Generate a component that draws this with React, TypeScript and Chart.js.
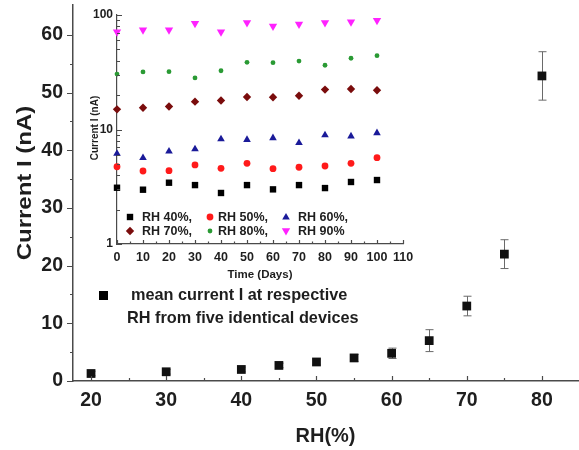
import React, { useEffect, useRef } from "react";
import { Chart, registerables } from "chart.js";
Chart.register(...registerables);

// ---------- main chart data ----------
const rhLevels = [20, 30, 40, 45, 50, 55, 60, 65, 70, 75, 80];
const meanCurrent = [1.3, 1.6, 2.0, 2.7, 3.3, 4.0, 4.8, 7.0, 13.0, 22.0, 52.9];
const currentError = [0.4, 0.4, 0.4, 0.4, 0.5, 0.6, 0.9, 1.9, 1.7, 2.5, 4.2];
const mainXTicks = [20, 30, 40, 50, 60, 70, 80];
const mainXMinor = [25, 35, 45, 55, 65, 75];
const mainYTicks = [0, 10, 20, 30, 40, 50, 60];
const mainYMinor = [5, 15, 25, 35, 45, 55];
const mainLegendLines = ["mean current I at respective", "RH from five identical devices"];

// ---------- inset data ----------
const days = [0, 10, 20, 30, 40, 50, 60, 70, 80, 90, 100];
const rh40 = [3.1, 2.98, 3.43, 3.27, 2.79, 3.27, 3.0, 3.27, 3.08, 3.48, 3.62];
const rh50 = [4.73, 4.34, 4.37, 4.9, 4.58, 5.07, 4.55, 4.68, 4.8, 5.07, 5.67];
const rh60 = [6.2, 5.7, 6.5, 6.8, 8.3, 8.2, 8.5, 7.7, 9.0, 8.8, 9.4];
const rh70 = [15.0, 15.5, 15.9, 17.5, 17.9, 19.2, 19.1, 19.7, 22.3, 22.6, 22.0];
const rh80 = [30.5, 31.8, 32.0, 28.2, 32.6, 38.6, 38.3, 39.6, 36.4, 41.9, 44.1];
const rh90 = [70.6, 73.5, 73.5, 83.5, 70.6, 85.1, 79.1, 82.3, 85.0, 86.4, 89.1];
const seriesLabels = ["RH 40%,", "RH 50%,", "RH 60%,", "RH 70%,", "RH 80%,", "RH 90%"];
const insetXTicks = [0, 10, 20, 30, 40, 50, 60, 70, 80, 90, 100, 110];
const insetXMinor = [5, 15, 25, 35, 45, 55, 65, 75, 85, 95, 105];
const insetYTicks = [1, 10, 100];
const insetYMinor = [2, 3, 4, 5, 6, 7, 8, 9, 20, 30, 40, 50, 60, 70, 80, 90];

const FONT = "'Liberation Sans', Arial, Helvetica, sans-serif";
const TEXT = "#1e1e1e";
const AXIS = "#4a4a4a";

type Marker = { style: string; r: number; color: string };
const markers: Marker[] = [
  { style: "rect", r: 3.2, color: "#000000" },
  { style: "circle", r: 3.4, color: "#ff1a1a" },
  { style: "triangle", r: 4.0, color: "#1a1a99" },
  { style: "diamond", r: 4.2, color: "#7a0c0c" },
  { style: "circle", r: 2.4, color: "#2a9a34" },
  { style: "triangleDown", r: 4.4, color: "#ff22ff" },
];

function drawMarker(ctx: CanvasRenderingContext2D, m: Marker, x: number, y: number) {
  ctx.save();
  ctx.fillStyle = m.color;
  ctx.beginPath();
  const r = m.r;
  if (m.style === "rect") ctx.rect(x - r, y - r, 2 * r, 2 * r);
  else if (m.style === "circle") ctx.arc(x, y, r, 0, Math.PI * 2);
  else if (m.style === "triangle") {
    ctx.moveTo(x, y - r);
    ctx.lineTo(x + r * 0.95, y + r * 0.65);
    ctx.lineTo(x - r * 0.95, y + r * 0.65);
    ctx.closePath();
  } else if (m.style === "triangleDown") {
    ctx.moveTo(x, y + r);
    ctx.lineTo(x + r * 0.95, y - r * 0.65);
    ctx.lineTo(x - r * 0.95, y - r * 0.65);
    ctx.closePath();
  } else if (m.style === "diamond") {
    ctx.moveTo(x, y - r);
    ctx.lineTo(x + r, y);
    ctx.lineTo(x, y + r);
    ctx.lineTo(x - r, y);
    ctx.closePath();
  }
  ctx.fill();
  ctx.restore();
}

function drawTicks(
  chart: any,
  axis: "x" | "y",
  values: number[],
  len: number,
  dir: number
) {
  const { ctx, chartArea } = chart;
  const scale = chart.scales[axis];
  ctx.save();
  ctx.strokeStyle = AXIS;
  ctx.lineWidth = 1.2;
  ctx.beginPath();
  values.forEach((v) => {
    const p = Math.round(scale.getPixelForValue(v)) + 0.5;
    if (axis === "y") {
      ctx.moveTo(chartArea.left, p);
      ctx.lineTo(chartArea.left + dir * len, p);
    } else {
      ctx.moveTo(p, chartArea.bottom);
      ctx.lineTo(p, chartArea.bottom - dir * len);
    }
  });
  ctx.stroke();
  ctx.restore();
}

const zeroPad = (s: any) => {
  s.paddingTop = 0;
  s.paddingBottom = 0;
  s.paddingLeft = 0;
  s.paddingRight = 0;
};

const mainDecor = {
  id: "mainDecor",
  beforeDatasetsDraw(chart: any) {
    const { ctx } = chart;
    const xs = chart.scales.x;
    const ys = chart.scales.y;
    ctx.save();
    ctx.strokeStyle = "#6a6a6a";
    ctx.lineWidth = 1;
    rhLevels.forEach((rh, i) => {
      const x = Math.round(xs.getPixelForValue(rh)) + 0.5;
      const yt = ys.getPixelForValue(meanCurrent[i] + currentError[i]);
      const yb = ys.getPixelForValue(Math.max(0, meanCurrent[i] - currentError[i]));
      ctx.beginPath();
      ctx.moveTo(x, yt);
      ctx.lineTo(x, yb);
      ctx.moveTo(x - 4, yt);
      ctx.lineTo(x + 4, yt);
      ctx.moveTo(x - 4, yb);
      ctx.lineTo(x + 4, yb);
      ctx.stroke();
    });
    ctx.restore();
  },
  afterDraw(chart: any) {
    const { ctx, chartArea } = chart;
    drawTicks(chart, "y", mainYTicks, 6, -1);
    drawTicks(chart, "y", mainYMinor, 3, -1);
    drawTicks(chart, "x", mainXTicks, 5, 1);
    drawTicks(chart, "x", mainXMinor, 3, 1);
    ctx.save();
    ctx.fillStyle = TEXT;
    // axis titles
    ctx.font = `bold 20px ${FONT}`;
    ctx.textAlign = "center";
    ctx.textBaseline = "middle";
    ctx.fillText("RH(%)", (chartArea.left + chartArea.right) / 2, 436);
    ctx.save();
    ctx.translate(25, 183);
    ctx.rotate(-Math.PI / 2);
    ctx.scale(1.2, 1);
    ctx.fillText("Current I (nA)", 0, 0);
    ctx.restore();
    // legend
    ctx.fillStyle = "#000";
    ctx.fillRect(99, 291, 9, 9);
    ctx.fillStyle = TEXT;
    ctx.font = `bold 16.3px ${FONT}`;
    ctx.textAlign = "left";
    ctx.fillText(mainLegendLines[0], 131, 296);
    ctx.fillText(mainLegendLines[1], 127, 319);
    ctx.restore();
  },
};

const insetDecor = {
  id: "insetDecor",
  afterDatasetsDraw(chart: any) {
    const { ctx } = chart;
    chart.data.datasets.forEach((ds: any, di: number) => {
      const meta = chart.getDatasetMeta(di);
      meta.data.forEach((pt: any) => drawMarker(ctx, markers[di], pt.x, pt.y));
    });
  },
  afterDraw(chart: any) {
    const { ctx, chartArea } = chart;
    drawTicks(chart, "y", insetYTicks, 5, 1);
    drawTicks(chart, "y", insetYMinor, 3, 1);
    drawTicks(chart, "x", insetXTicks, 4, 1);
    drawTicks(chart, "x", insetXMinor, 2.5, 1);
    ctx.save();
    ctx.fillStyle = TEXT;
    ctx.font = `bold 11.5px ${FONT}`;
    ctx.textAlign = "center";
    ctx.textBaseline = "middle";
    ctx.fillText("Time (Days)", (chartArea.left + chartArea.right) / 2, 275);
    ctx.font = `bold 10px ${FONT}`;
    ctx.save();
    ctx.translate(15, 128);
    ctx.rotate(-Math.PI / 2);
    ctx.fillText("Current I (nA)", 0, 0);
    ctx.restore();
    // legend
    const colsMarker = [50, 130, 206];
    const colsText = [62, 138, 218];
    const rows = [217, 231];
    ctx.font = `bold 12.5px ${FONT}`;
    ctx.textAlign = "left";
    seriesLabels.forEach((lab, i) => {
      const c = i % 3;
      const r = Math.floor(i / 3);
      drawMarker(ctx, markers[i], colsMarker[c], rows[r]);
      ctx.fillStyle = TEXT;
      ctx.fillText(lab, colsText[c], rows[r] + 0.5);
    });
    ctx.restore();
  },
};

export default function App() {
  const mainRef = useRef<HTMLCanvasElement>(null);
  const insetRef = useRef<HTMLCanvasElement>(null);

  useEffect(() => {
    const main = new Chart(mainRef.current as HTMLCanvasElement, {
      type: "scatter",
      data: {
        datasets: [
          {
            label: "mean current",
            data: rhLevels.map((x, i) => ({ x, y: meanCurrent[i] })),
            pointStyle: "rect",
            pointRadius: 6.2,
            backgroundColor: "#111",
            borderColor: "#111",
            borderWidth: 0,
          },
        ],
      },
      options: {
        responsive: false,
        animation: false,
        layout: { autoPadding: false, padding: { top: 5, right: 1, left: 0, bottom: 0 } },
        plugins: { legend: { display: false }, tooltip: { enabled: false } },
        scales: {
          x: {
            type: "linear",
            min: 17.6,
            max: 84.8,
            grid: { display: false, drawTicks: false },
            border: { display: true, color: AXIS, width: 1.5 },
            afterBuildTicks: (s: any) => {
              s.ticks = mainXTicks.map((v) => ({ value: v }));
            },
            afterFit: (s: any) => {
              s.height = 69;
              zeroPad(s);
            },
            ticks: {
              padding: 8,
              maxRotation: 0,
              minRotation: 0,
              autoSkip: false,
              color: TEXT,
              font: { family: FONT, size: 19.5, weight: "bold" },
            },
          },
          y: {
            type: "linear",
            min: 0,
            max: 65.2,
            grid: { display: false, drawTicks: false },
            border: { display: true, color: AXIS, width: 1.5 },
            afterBuildTicks: (s: any) => {
              s.ticks = mainYTicks.map((v) => ({ value: v }));
            },
            afterFit: (s: any) => {
              s.width = 73;
              zeroPad(s);
            },
            ticks: {
              padding: 10,
              autoSkip: false,
              color: TEXT,
              font: { family: FONT, size: 19.5, weight: "bold" },
            },
          },
        },
      },
      plugins: [mainDecor],
    } as any);

    const seriesData = [rh40, rh50, rh60, rh70, rh80, rh90];
    const inset = new Chart(insetRef.current as HTMLCanvasElement, {
      type: "scatter",
      data: {
        datasets: seriesData.map((arr, i) => ({
          label: seriesLabels[i],
          data: days.map((d, j) => ({ x: d, y: arr[j] })),
          pointRadius: 0,
          pointHoverRadius: 0,
          backgroundColor: markers[i].color,
        })),
      },
      options: {
        responsive: false,
        animation: false,
        layout: { autoPadding: false, padding: { top: 15, right: 22, left: 0, bottom: 0 } },
        plugins: { legend: { display: false }, tooltip: { enabled: false } },
        scales: {
          x: {
            type: "linear",
            min: 0,
            max: 110,
            grid: { display: false, drawTicks: false },
            border: { display: true, color: AXIS, width: 1.2 },
            afterBuildTicks: (s: any) => {
              s.ticks = insetXTicks.map((v) => ({ value: v }));
            },
            afterFit: (s: any) => {
              s.height = 46;
              zeroPad(s);
            },
            ticks: {
              padding: 6,
              maxRotation: 0,
              minRotation: 0,
              autoSkip: false,
              color: TEXT,
              font: { family: FONT, size: 12.5, weight: "bold" },
            },
          },
          y: {
            type: "logarithmic",
            min: 1,
            max: 100,
            grid: { display: false, drawTicks: false },
            border: { display: true, color: AXIS, width: 1.2 },
            afterBuildTicks: (s: any) => {
              s.ticks = insetYTicks.map((v) => ({ value: v }));
            },
            afterFit: (s: any) => {
              s.width = 37;
              zeroPad(s);
            },
            ticks: {
              padding: 4,
              autoSkip: false,
              color: TEXT,
              font: { family: FONT, size: 12, weight: "bold" },
              callback: (v: any) => String(v),
            },
          },
        },
      },
      plugins: [insetDecor],
    } as any);

    return () => {
      main.destroy();
      inset.destroy();
    };
  }, []);

  return (
    <div
      style={{
        position: "fixed",
        left: 0,
        top: 0,
        width: 579,
        height: 450,
        background: "#ffffff",
      }}
    >
      <canvas
        ref={mainRef}
        width={579}
        height={450}
        style={{ position: "absolute", left: 0, top: 0 }}
      />
      <canvas
        ref={insetRef}
        width={345}
        height={290}
        style={{ position: "absolute", left: 80, top: 0 }}
      />
    </div>
  );
}
